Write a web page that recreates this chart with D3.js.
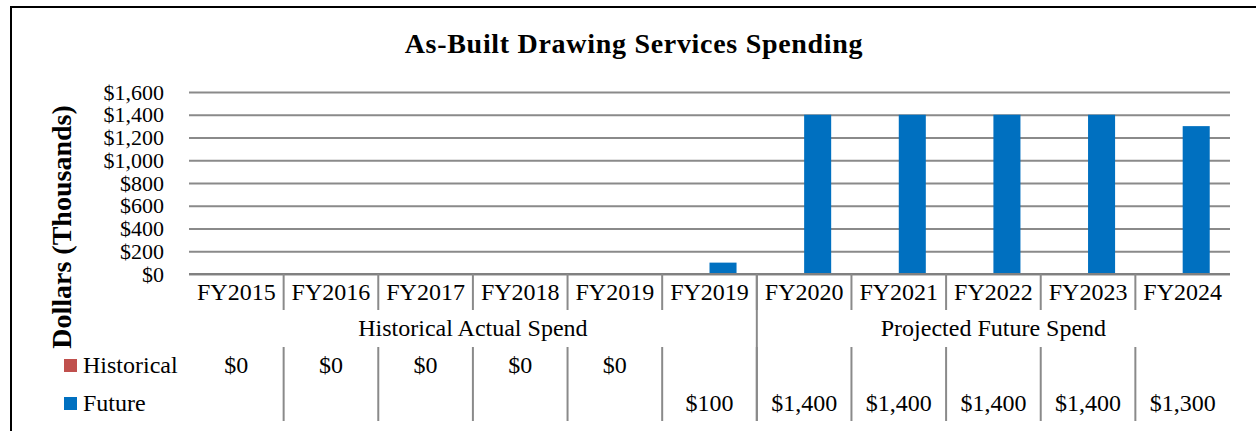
<!DOCTYPE html>
<html>
<head>
<meta charset="utf-8">
<script src="https://cdn.jsdelivr.net/npm/d3@7"></script>
<style>
  body { margin: 0; background: #fff; }
  svg { display: block; font-family: "Liberation Serif", "Times New Roman", serif; }
</style>
</head>
<body>
<svg id="chart" width="1256" height="431"></svg>
<script>
// chart data
var categories = ["FY2015", "FY2016", "FY2017", "FY2018", "FY2019", "FY2019", "FY2020", "FY2021", "FY2022", "FY2023", "FY2024"];
var historical = [0, 0, 0, 0, 0, null, null, null, null, null, null];
var future = [null, null, null, null, null, 100, 1400, 1400, 1400, 1400, 1300];
var groupNames = ["Historical Actual Spend", "Projected Future Spend"];
var groupStart = [0, 6];
var groupEnd = [5, 10];
var yTicks = [0, 200, 400, 600, 800, 1000, 1200, 1400, 1600];
var seriesNames = ["Historical", "Future"];
var seriesColors = ["#C0504D", "#0070C0"];

var svg = d3.select("#chart");

var x = d3.scaleBand()
    .domain(d3.range(categories.length))
    .range([189, 1230])
    .paddingInner(0)
    .paddingOuter(0);

var y = d3.scaleLinear()
    .domain([0, 1600])
    .range([274, 92]);

// inner band for the two series (Excel gap width 150%)
var barW = x.bandwidth() / 3.5;
var sub = d3.scaleBand()
    .domain([0, 1])
    .range([x.bandwidth() / 2 - barW, x.bandwidth() / 2 + barW]);

// outer frame
svg.append("path")
    .attr("d", "M11,431 L11,7 L1256,7")
    .attr("fill", "none")
    .attr("stroke", "#000")
    .attr("stroke-width", 2);

// title
svg.append("text")
    .attr("x", 634)
    .attr("y", 53)
    .attr("text-anchor", "middle")
    .attr("font-weight", "bold")
    .attr("font-size", 28)
    .attr("letter-spacing", 0.7)
    .text("As-Built Drawing Services Spending");

// y axis with gridlines
var yAxis = svg.append("g")
    .attr("transform", "translate(189,0)")
    .call(d3.axisLeft(y)
      .tickValues(yTicks)
      .tickSize(-(1230 - 189))
      .tickPadding(25)
      .tickFormat(d3.format("$,")));
yAxis.select(".domain").remove();
yAxis.selectAll(".tick line")
    .attr("stroke", "#8a8a8a")
    .attr("stroke-width", 2);
yAxis.selectAll(".tick text")
    .attr("font-family", "Liberation Serif")
    .attr("font-size", 22)
    .attr("fill", "#000");

// y title
svg.append("text")
    .attr("transform", "translate(71,227) rotate(-90)")
    .attr("text-anchor", "middle")
    .attr("font-weight", "bold")
    .attr("font-size", 28)
    .text("Dollars (Thousands)");

// bars
var series = [historical, future];
series.forEach(function(vals, s) {
  svg.append("g")
    .selectAll("rect")
    .data(vals.map(function(v, i) { return {i: i, v: v}; }).filter(function(d) { return d.v != null && d.v > 0; }))
    .enter().append("rect")
      .attr("x", function(d) { return x(d.i) + sub(s); })
      .attr("width", sub.bandwidth())
      .attr("y", function(d) { return y(d.v); })
      .attr("height", function(d) { return y(0) - y(d.v); })
      .attr("fill", seriesColors[s]);
});

// category axis
var xAxis = svg.append("g")
    .attr("transform", "translate(0,274)")
    .call(d3.axisBottom(x).tickSize(0).tickPadding(0).tickFormat(function(i) { return categories[i]; }));
xAxis.select(".domain").remove();
xAxis.selectAll(".tick text")
    .attr("y", 26)
    .attr("dy", null)
    .attr("font-family", "Liberation Serif")
    .attr("font-size", 24)
    .attr("fill", "#000");

svg.append("line")
    .attr("x1", 189).attr("x2", 1230)
    .attr("y1", y(0)).attr("y2", y(0))
    .attr("stroke", "#808080")
    .attr("stroke-width", 2);

var lines = svg.append("g")
    .attr("stroke", "#8a8a8a")
    .attr("stroke-width", 2);

// separators in category row
lines.selectAll("line.cat")
    .data(d3.range(1, categories.length))
    .enter().append("line")
      .attr("class", "cat")
      .attr("x1", function(i) { return x(i); })
      .attr("x2", function(i) { return x(i); })
      .attr("y1", 274).attr("y2", 310);

// separators in data table
lines.selectAll("line.tbl")
    .data(d3.range(1, categories.length))
    .enter().append("line")
      .attr("class", "tbl")
      .attr("x1", function(i) { return x(i); })
      .attr("x2", function(i) { return x(i); })
      .attr("y1", 347).attr("y2", 421);

// group separator
lines.selectAll("line.grp")
    .data(groupStart.slice(1))
    .enter().append("line")
      .attr("class", "grp")
      .attr("x1", function(i) { return x(i); })
      .attr("x2", function(i) { return x(i); })
      .attr("y1", 274).attr("y2", 421);

// group labels
svg.append("g")
  .selectAll("text")
  .data(groupNames)
  .enter().append("text")
    .attr("x", function(d, g) { return (x(groupStart[g]) + x(groupEnd[g]) + x.bandwidth()) / 2; })
    .attr("y", 336)
    .attr("text-anchor", "middle")
    .attr("font-size", 24)
    .text(function(d) { return d; });

// data table rows
var rowY = [373, 411];
var fmt = d3.format("$,");
series.forEach(function(vals, s) {
  var row = svg.append("g");
  row.append("rect")
    .attr("x", 64)
    .attr("y", rowY[s] - 14)
    .attr("width", 13)
    .attr("height", 13)
    .attr("fill", seriesColors[s]);
  row.append("text")
    .attr("x", 83)
    .attr("y", rowY[s])
    .attr("font-size", 24)
    .text(seriesNames[s]);
  row.selectAll("text.val")
    .data(vals.map(function(v, i) { return {i: i, v: v}; }).filter(function(d) { return d.v != null; }))
    .enter().append("text")
      .attr("class", "val")
      .attr("x", function(d) { return x(d.i) + x.bandwidth() / 2; })
      .attr("y", rowY[s])
      .attr("text-anchor", "middle")
      .attr("font-size", 24)
      .text(function(d) { return fmt(d.v); });
});
</script>
</body>
</html>
